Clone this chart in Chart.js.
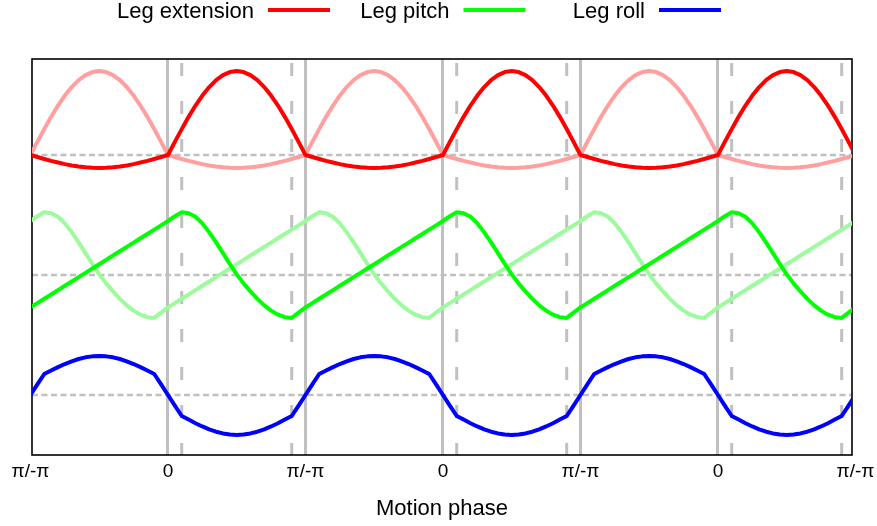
<!DOCTYPE html>
<html>
<head>
<meta charset="utf-8">
<script src="https://cdn.jsdelivr.net/npm/chart.js@4.4.1/dist/chart.umd.min.js"></script>
<style>
  html, body { margin: 0; padding: 0; background: #ffffff; }
  #c { display: block; }
</style>
</head>
<body>
<canvas id="c" width="877" height="526"></canvas>
<script>
// ---- data ----
const tickLabels = ['π/-π', '0', 'π/-π', '0', 'π/-π', '0', 'π/-π'];
const legendLabels = ['Leg extension', 'Leg pitch', 'Leg roll'];
// phase within one gait cycle, in units of π (-π .. π)
const phase = [-1, -0.95, -0.9, -0.85, -0.8, -0.75, -0.7, -0.65, -0.6, -0.55, -0.5,
  -0.45, -0.4, -0.35, -0.3, -0.25, -0.2, -0.15, -0.1, -0.05, 0,
  0.05, 0.1, 0.15, 0.2, 0.25, 0.3, 0.35, 0.4, 0.45, 0.5,
  0.55, 0.6, 0.65, 0.7, 0.75, 0.8, 0.85, 0.9, 0.95, 1];
const legExtension = [0, -0.017, -0.033, -0.049, -0.063, -0.076, -0.087, -0.096, -0.103, -0.107, -0.108,
  -0.107, -0.103, -0.096, -0.087, -0.076, -0.063, -0.049, -0.033, -0.017, 0,
  0.109, 0.216, 0.318, 0.412, 0.495, 0.566, 0.624, 0.666, 0.691, 0.700,
  0.691, 0.666, 0.624, 0.566, 0.495, 0.412, 0.318, 0.216, 0.109, 0];
const legPitch = [-0.270, -0.234, -0.198, -0.162, -0.126, -0.090, -0.054, -0.018, 0.018, 0.054, 0.090,
  0.126, 0.162, 0.198, 0.234, 0.270, 0.306, 0.342, 0.378, 0.414, 0.450,
  0.490, 0.522, 0.515, 0.485, 0.430, 0.355, 0.272, 0.182, 0.092, 0.005,
  -0.070, -0.137, -0.199, -0.253, -0.297, -0.331, -0.351, -0.358, -0.314, -0.270];
const legRoll = [0, 0.088, 0.175, 0.204, 0.232, 0.258, 0.281, 0.300, 0.314, 0.322, 0.325,
  0.322, 0.314, 0.300, 0.281, 0.258, 0.232, 0.204, 0.175, 0.088, 0,
  -0.088, -0.175, -0.205, -0.235, -0.262, -0.286, -0.306, -0.320, -0.329, -0.333,
  -0.329, -0.320, -0.306, -0.286, -0.262, -0.235, -0.205, -0.175, -0.088, 0];
// zero level of each trace band (extension, pitch, roll)
const bandZero = [0, -1, -2];
// dashed guide phases inside each cycle (units of π)
const guidePhase = [0.1, 0.9];
const cycles = 3;

// repeat the periodic cycle across the plotted motion phases
function tile(values, shift, zero) {
  const pts = [];
  for (let c = -1; c <= cycles; c++) {
    for (let i = 0; i < phase.length; i++) {
      pts.push({ x: 2 * c + phase[i] + 1 + shift, y: zero + values[i] });
    }
  }
  return pts;
}

const FONT = '"Liberation Sans", Arial, Helvetica, sans-serif';

const datasets = [
  { label: legendLabels[0], inLegend: true, data: tile(legExtension, 0, bandZero[0]), borderColor: '#ff0000', borderWidth: 4 },
  { label: legendLabels[1], inLegend: true, data: tile(legPitch, 0, bandZero[1]), borderColor: '#00ff00', borderWidth: 4 },
  { label: legendLabels[2], inLegend: true, data: tile(legRoll, 0, bandZero[2]), borderColor: '#0000ff', borderWidth: 4 },
  { label: 'Leg extension (other leg)', data: tile(legExtension, 1, bandZero[0]), borderColor: '#ff9f9f', borderWidth: 4 },
  { label: 'Leg pitch (other leg)', data: tile(legPitch, 1, bandZero[1]), borderColor: '#9cfb9c', borderWidth: 4 }
];

const guides = {
  id: 'guides',
  beforeDatasetsDraw(chart) {
    const { ctx, chartArea: a, scales: { x, y } } = chart;
    ctx.save();
    ctx.beginPath();
    ctx.rect(a.left, a.top, a.right - a.left, a.bottom - a.top);
    ctx.clip();
    ctx.strokeStyle = '#c0c0c0';
    ctx.lineWidth = 3;
    ctx.setLineDash([13, 25]);
    ctx.lineDashOffset = 34;
    for (let c = 0; c < cycles; c++) {
      for (const g of guidePhase) {
        const px = x.getPixelForValue(2 * c + 1 + g);
        ctx.beginPath();
        ctx.moveTo(px, a.top);
        ctx.lineTo(px, a.bottom);
        ctx.stroke();
      }
    }
    ctx.lineWidth = 2.5;
    ctx.setLineDash([6, 3.5]);
    ctx.lineDashOffset = 0;
    for (const z of bandZero) {
      const py = y.getPixelForValue(z);
      ctx.beginPath();
      ctx.moveTo(a.left, py);
      ctx.lineTo(a.right, py);
      ctx.stroke();
    }
    ctx.restore();
    ctx.save();
    ctx.strokeStyle = '#000000';
    ctx.lineWidth = 1.6;
    ctx.strokeRect(a.left, a.top, a.right - a.left, a.bottom - a.top);
    ctx.restore();
  }
};

const legendRow = {
  id: 'legendRow',
  afterDraw(chart) {
    const ctx = chart.ctx;
    const items = chart.data.datasets.filter(d => d.inLegend);
    ctx.save();
    ctx.font = '22px ' + FONT;
    ctx.textAlign = 'right';
    ctx.textBaseline = 'alphabetic';
    ctx.fillStyle = '#000000';
    items.forEach((d, i) => {
      const tx = 254 + i * 195.5;
      ctx.fillText(d.label, tx, 17.5);
      ctx.strokeStyle = d.borderColor;
      ctx.lineWidth = 4;
      ctx.beginPath();
      ctx.moveTo(tx + 14, 10);
      ctx.lineTo(tx + 76, 10);
      ctx.stroke();
    });
    ctx.restore();
  }
};

new Chart(document.getElementById('c'), {
  type: 'line',
  data: { datasets },
  plugins: [guides, legendRow],
  options: {
    responsive: false,
    animation: false,
    devicePixelRatio: 1,
    layout: { padding: { left: 32, right: 25, top: 59, bottom: 0 } },
    plugins: { legend: { display: false }, tooltip: { enabled: false } },
    elements: {
      point: { radius: 0 },
      line: { tension: 0, borderCapStyle: 'round', borderJoinStyle: 'round', fill: false }
    },
    scales: {
      x: {
        type: 'linear',
        min: 0.011,
        max: 5.975,
        afterBuildTicks: s => { s.ticks = tickLabels.map((_, i) => ({ value: i })); },
        afterFit: s => { s.height = 71; s.paddingLeft = 0; s.paddingRight = 0; },
        ticks: {
          autoSkip: false,
          maxRotation: 0,
          padding: 5,
          color: '#000000',
          font: { family: FONT, size: 19 },
          callback: v => tickLabels[Math.round(v)]
        },
        grid: {
          drawTicks: false,
          lineWidth: 3,
          color: c => (c.tick && (c.tick.value === 0 || c.tick.value === tickLabels.length - 1)) ? 'rgba(0,0,0,0)' : '#c0c0c0'
        },
        border: { display: false },
        title: {
          display: true,
          text: 'Motion phase',
          color: '#000000',
          font: { family: FONT, size: 22 },
          padding: { top: 0, bottom: 4 }
        }
      },
      y: { display: false, min: -2.5, max: 0.8 }
    }
  }
});
</script>
</body>
</html>
